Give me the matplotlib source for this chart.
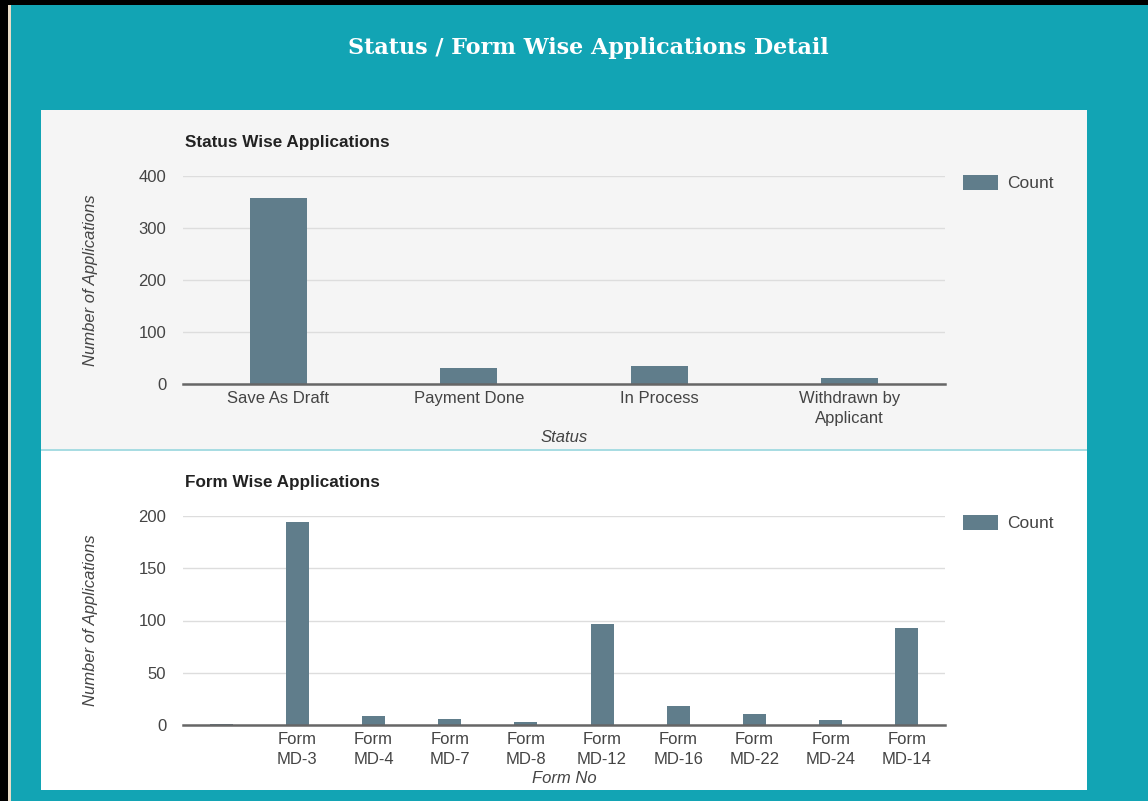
import matplotlib.pyplot as plt
from matplotlib.patches import Rectangle

# 数据
status_labels = ['Save As Draft', 'Payment Done', 'In Process', 'Withdrawn by\nApplicant']
status_counts = [357, 30, 35, 12]

form_labels = ['', 'Form\nMD-3', 'Form\nMD-4', 'Form\nMD-7', 'Form\nMD-8', 'Form\nMD-12',
               'Form\nMD-16', 'Form\nMD-22', 'Form\nMD-24', 'Form\nMD-14']
form_counts = [1, 194, 9, 6, 3, 97, 18, 11, 5, 93]

W, H = 1148, 801
TEAL = '#12a4b4'
BAR = '#607d8b'
TXT = '#444444'

plt.rcParams['font.family'] = ['Liberation Sans', 'DejaVu Sans']


# 像素坐标转换成 figure 坐标
def px_box(x0, y0, x1, y1):
    return [x0 / W, 1 - y1 / H, (x1 - x0) / W, (y1 - y0) / H]


def add_rect(fig, x0, y0, x1, y1, color, z=0):
    l, b, w, h = px_box(x0, y0, x1, y1)
    fig.patches.append(Rectangle((l, b), w, h, transform=fig.transFigure,
                                 facecolor=color, edgecolor='none', zorder=z))


def bar_chart(fig, box, labels, counts, ymax, step, subtitle, xlabel, legend_y):
    ax = fig.add_axes(px_box(*box))
    ax.set_zorder(5)
    ax.set_facecolor('none')
    x = range(len(labels))
    ax.bar(x, counts, width=0.3, color=BAR, zorder=3, label='Count')
    ax.set_xlim(-0.5, len(labels) - 0.5)
    ax.set_ylim(0, ymax)
    ax.set_yticks(range(0, ymax + 1, step))
    ax.set_xticks(list(x))
    ax.set_xticklabels(labels, linespacing=1.4)
    ax.tick_params(axis='both', length=0, labelsize=12, colors=TXT)
    ax.tick_params(axis='y', pad=12)
    ax.tick_params(axis='x', pad=5)
    ax.grid(axis='y', color='#dddddd', linewidth=1, zorder=0)
    for s in ['top', 'right', 'left']:
        ax.spines[s].set_visible(False)
    ax.spines['bottom'].set_color('#666666')
    ax.spines['bottom'].set_linewidth(1.8)
    ax.spines['bottom'].set_zorder(4)
    ax.set_ylabel('Number of Applications', fontsize=12, style='italic', color=TXT)
    ax.yaxis.set_label_coords((90 - box[0]) / (box[2] - box[0]), 0.5)
    ax.yaxis.label.set_va('center')
    ax.set_xlabel(xlabel, fontsize=12, style='italic', color=TXT)
    ax.xaxis.set_label_coords(0.5, -0.22)
    fig.text(185 / W, 1 - subtitle[1] / H, subtitle[0], fontsize=12.3,
             fontweight='bold', color='#222222', va='center', ha='left', zorder=6)
    # 图例
    add_rect(fig, 963, legend_y - 8, 998, legend_y + 7, BAR, z=2)
    fig.text(1007 / W, 1 - legend_y / H, 'Count', fontsize=12.5, color=TXT,
             va='center', ha='left', zorder=6)
    return ax


fig = plt.figure(figsize=(W / 100, H / 100), dpi=100)
fig.patch.set_facecolor(TEAL)

# 黑色边框
add_rect(fig, 0, 0, W, 5, '#000000', z=1)
add_rect(fig, 0, 0, 8, H, '#000000', z=1)
add_rect(fig, 8, 5, 11, H, '#e8dcc8', z=1)

# 面板背景
add_rect(fig, 41, 110, 1087, 449, '#f5f5f5')
add_rect(fig, 41, 449, 1087, 451, '#a8dce2')
add_rect(fig, 41, 451, 1087, 790, '#ffffff')

fig.text(588 / W, 1 - 48 / H, 'Status / Form Wise Applications Detail',
         fontsize=16, fontweight='bold', family='DejaVu Serif',
         color='white', ha='center', va='center', zorder=6)

bar_chart(fig, (183, 176, 945, 384), status_labels, status_counts, 400, 100,
          ('Status Wise Applications', 142), 'Status', 183)
bar_chart(fig, (183, 516, 945, 725), form_labels, form_counts, 200, 50,
          ('Form Wise Applications', 482), 'Form No', 523)

fig.savefig('out.png', dpi=100, facecolor=fig.get_facecolor())
